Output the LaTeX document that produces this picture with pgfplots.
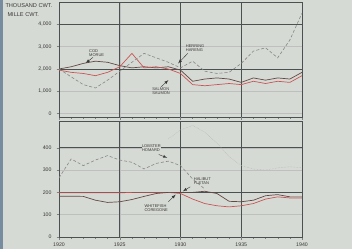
\documentclass[border=0pt]{standalone}
\usepackage{pgfplots}
\pgfplotsset{compat=1.18}
\usepackage{fontspec}
\setmainfont{Liberation Sans}
\definecolor{bg}{RGB}{214,218,212}
\definecolor{strip}{RGB}{120,140,160}
\definecolor{grid}{RGB}{75,80,80}
\definecolor{redl}{RGB}{200,85,85}
\definecolor{darkl}{RGB}{100,72,68}
\definecolor{dotl}{RGB}{135,135,135}
\definecolor{txt}{RGB}{55,55,55}
\begin{document}
\begin{tikzpicture}
\fill[bg] (0pt,0pt) rectangle (352pt,249pt);
\fill[strip] (0pt,0pt) rectangle (3pt,249pt);
\useasboundingbox (0pt,0pt) rectangle (352pt,249pt);
\pgfplotsset{
  panel/.style={
    scale only axis, width=243pt, anchor=south west,
    xmin=1920, xmax=1940,
    axis line style={grid, line width=0.8pt},
    tick style={grid, line width=0.4pt},
    major tick length=2.5pt, minor tick length=1.5pt,
    tick align=outside,
    ticklabel style={font=\fontsize{5.2}{6}\selectfont, text=txt},
    yticklabel style={xshift=-1.5pt},
    /pgf/number format/assume math mode=true,
    extra x ticks={1925,1930,1935},
    extra x tick labels={},
    extra x tick style={grid=major, major grid style={grid, line width=0.8pt}},
    minor x tick num=4,
    xtick pos=bottom,
    ytick pos=left,
    clip=true,
  }
}
% top panel
\begin{axis}[panel, height=115pt, at={(59pt,132pt)},
  ymin=-150, ymax=5000,
  ytick={0,1000,2000,3000,4000},
  yticklabels={0,{1,000},{2,000},{3,000},{4,000}},
  xtick={1920,1925,1930,1935,1940}, xticklabels={},
  extra y ticks={2000,4000}, extra y tick labels={},
  extra y tick style={grid=major, major grid style={grid, line width=0.8pt}},
]
% cod (dark solid)
\addplot[darkl, line width=0.7pt] coordinates {
(1920,2000)(1921,2100)(1922,2250)(1923,2350)(1924,2300)(1925,2150)(1926,2050)
(1927,2100)(1928,2050)(1929,2100)(1930,1950)(1931,1450)(1932,1550)(1933,1600)
(1934,1550)(1935,1400)(1936,1600)(1937,1500)(1938,1600)(1939,1550)(1940,1850)};
% salmon (red)
\addplot[redl, line width=0.7pt] coordinates {
(1920,1950)(1921,1850)(1922,1800)(1923,1700)(1924,1850)(1925,2100)(1926,2700)
(1927,2050)(1928,2100)(1929,2000)(1930,1800)(1931,1300)(1932,1250)(1933,1300)
(1934,1350)(1935,1300)(1936,1450)(1937,1350)(1938,1450)(1939,1400)(1940,1700)};
% herring (dotted)
\addplot[dotl, line width=0.6pt, densely dashed] coordinates {
(1920,2000)(1921,1650)(1922,1300)(1923,1150)(1924,1500)(1925,1900)(1926,2300)
(1927,2700)(1928,2500)(1929,2300)(1930,2050)(1931,2350)(1932,1900)(1933,1800)
(1934,1850)(1935,2250)(1936,2800)(1937,2950)(1938,2500)(1939,3300)(1940,4500)};
\node[font=\fontsize{4}{4.3}\selectfont, text=txt, align=left] at (axis cs:1923.1,2720) {COD\\MORUE};
\node[font=\fontsize{4}{4.3}\selectfont, text=txt, align=left] at (axis cs:1931.2,2950) {HERRING\\HARENG};
\node[font=\fontsize{4}{4.3}\selectfont, text=txt, align=left] at (axis cs:1928.4,1000) {SALMON\\SAUMON};
\draw[-latex, txt, line width=0.4pt] (axis cs:1922.8,2520) -- (axis cs:1922.2,2270);
\draw[-latex, txt, line width=0.4pt] (axis cs:1930.6,2700) -- (axis cs:1929.8,2250);
\draw[-latex, txt, line width=0.4pt] (axis cs:1928.4,1200) -- (axis cs:1929.0,1500);
\end{axis}
% bottom panel
\begin{axis}[panel, height=116pt, at={(59pt,12pt)},
  ymin=0, ymax=520,
  ytick={0,100,200,300,400},
  xtick={1920,1925,1930,1935,1940},
  xticklabels={1920,1925,1930,1935,1940},
  extra y ticks={200,400}, extra y tick labels={},
  extra y tick style={grid=major, major grid style={grid, line width=0.8pt}},
]
% lobster (dashed)
\addplot[dotl, line width=0.6pt, densely dashed] coordinates {
(1920,265)(1921,350)(1922,320)(1923,345)(1924,365)(1925,345)(1926,335)
(1927,305)(1928,330)(1929,340)(1930,320)(1931,260)(1932,215)};
\addplot[dotl!60, line width=0.5pt, densely dotted] coordinates {
(1929,440)(1930,480)(1931,500)(1932,470)(1933,420)(1934,360)(1935,320)
(1936,305)(1937,300)(1938,310)(1939,315)(1940,310)};
% halibut (red)
\addplot[redl, line width=0.7pt] coordinates {
(1920,198)(1921,198)(1922,198)(1923,198)(1924,198)(1925,198)(1926,200)
(1927,200)(1928,200)(1929,200)(1930,195)(1931,170)(1932,150)(1933,140)
(1934,135)(1935,140)(1936,150)(1937,170)(1938,180)(1939,175)(1940,175)};
% whitefish (dark)
\addplot[darkl, line width=0.7pt] coordinates {
(1920,183)(1921,183)(1922,182)(1923,165)(1924,155)(1925,158)(1926,168)
(1927,182)(1928,195)(1929,200)(1930,200)(1931,200)(1932,205)(1933,195)
(1934,160)(1935,158)(1936,165)(1937,185)(1938,190)(1939,180)(1940,180)};
\node[font=\fontsize{4}{4.3}\selectfont, text=txt, align=left, fill=bg, inner sep=0.5pt] at (axis cs:1927.6,400) {LOBSTER\\HOMARD};
\node[font=\fontsize{4}{4.3}\selectfont, text=txt, align=left] at (axis cs:1931.8,250) {HALIBUT\\FLETAN};
\node[font=\fontsize{4}{4.3}\selectfont, text=txt, align=left] at (axis cs:1928.0,130) {WHITEFISH\\COREGONE};
\draw[-latex, txt, line width=0.4pt] (axis cs:1928.2,370) -- (axis cs:1928.9,355);
\draw[-latex, txt, line width=0.4pt] (axis cs:1930.8,225) -- (axis cs:1930.2,205);
\draw[-latex, txt, line width=0.4pt] (axis cs:1929.0,158) -- (axis cs:1929.6,190);
\end{axis}
\node[font=\fontsize{5.6}{6}\selectfont, text=txt, anchor=north west] at (2pt,249pt) {THOUSAND CWT.};
\node[font=\fontsize{5.6}{6}\selectfont, text=txt, anchor=north west] at (4pt,240pt) {MILLE CWT.};
\end{tikzpicture}
\end{document}
